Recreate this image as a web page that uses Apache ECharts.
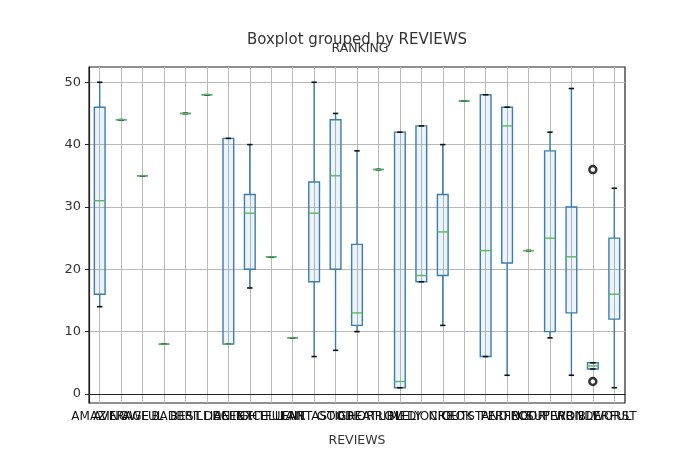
<!DOCTYPE html>
<html>
<head>
<meta charset="utf-8">
<script src="https://cdn.jsdelivr.net/npm/echarts@6/dist/echarts.min.js"></script>
<style>
html,body{margin:0;padding:0;background:#fff;}
#chart{width:689px;height:452px;}
</style>
</head>
<body>
<div id="chart"></div>
<script>
const categories = ['AMAZING','AVERAGE','AWFUL','BAD','BEST','BRILLIANT','DECENT','DELIGHTFUL','EXCELLENT','FAIR','FANTASTIC','GOOD','GREAT','HORRIBLE','LOVELY','MEDIOCRE','NICE','OK','OUTSTANDING','PERFECT','POOR','SUPERB','TERRIBLE','WONDERFUL','WORST'];
const whiskerLow  = [14,44,35, 8,45,48, 8,17,22, 9, 6, 7,10,36, 1,18,11,47, 6, 3,23, 9, 3, 4, 1];
const q1          = [16,44,35, 8,45,48, 8,20,22, 9,18,20,11,36, 1,18,19,47, 6,21,23,10,13, 4,12];
const medians     = [31,44,35, 8,45,48, 8,29,22, 9,29,35,13,36, 2,19,26,47,23,43,23,25,22,4.5,16];
const q3          = [46,44,35, 8,45,48,41,32,22, 9,34,44,24,36,42,43,32,47,48,46,23,39,30, 5,25];
const whiskerHigh = [50,44,35, 8,45,48,41,40,22, 9,50,45,39,36,42,43,40,47,48,46,23,42,49, 5,33];
const outlierCats = ['WONDERFUL','WONDERFUL'];
const outlierVals = [36, 2];
const yTicks = [0,10,20,30,40,50];

const boxData = categories.map((c, i) => [i, whiskerLow[i], q1[i], medians[i], q3[i], whiskerHigh[i]]);
const outlierData = outlierCats.map((c, i) => [c, outlierVals[i]]);

const BOX = '#3b7db0';
function renderBox(params, api) {
  const x = api.value(0);
  const lo = api.coord([x, api.value(1)]);
  const b1 = api.coord([x, api.value(2)]);
  const md = api.coord([x, api.value(3)]);
  const b3 = api.coord([x, api.value(4)]);
  const hi = api.coord([x, api.value(5)]);
  const bw = api.size([1, 0])[0] * 0.5;
  const cx = lo[0];
  const line = (x1, y1, x2, y2, color, w) => ({
    type: 'line', shape: {x1, y1, x2, y2}, style: {stroke: color, lineWidth: w}
  });
  return {
    type: 'group',
    children: [
      line(cx, b3[1], cx, hi[1], BOX, 1.4),
      line(cx, lo[1], cx, b1[1], BOX, 1.4),
      {type: 'rect', shape: {x: cx - bw/2, y: b3[1], width: bw, height: b1[1] - b3[1]},
       style: {stroke: BOX, lineWidth: 1.4, fill: 'rgba(80,150,200,0.10)'}},
      line(cx - bw/4, hi[1], cx + bw/4, hi[1], '#111', 1.6),
      line(cx - bw/4, lo[1], cx + bw/4, lo[1], '#111', 1.6),
      line(cx - bw/2, md[1], cx + bw/2, md[1], '#5cb85c', 1.4)
    ]
  };
}

const chart = echarts.init(document.getElementById('chart'));
chart.setOption({
  animation: false,
  backgroundColor: '#fff',
  title: [
    {text: 'Boxplot grouped by REVIEWS', left: 352, top: 28, textAlign: 'center',
     textStyle: {fontFamily: 'DejaVu Sans', fontSize: 15, fontWeight: 'normal', color: '#333'}},
    {text: 'RANKING', left: 355, top: 37, textAlign: 'center',
     textStyle: {fontFamily: 'DejaVu Sans', fontSize: 12.5, fontWeight: 'normal', color: '#333'}}
  ],
  grid: {left: 89, right: 64, top: 67, bottom: 49, show: true, borderColor: '#222', borderWidth: 1.2, backgroundColor: 'transparent'},
  xAxis: {
    type: 'category',
    data: categories,
    boundaryGap: true,
    name: 'REVIEWS',
    nameLocation: 'middle',
    nameGap: 31,
    nameTextStyle: {fontFamily: 'DejaVu Sans', fontSize: 12.5, color: '#333'},
    axisLine: {lineStyle: {color: '#222', width: 1.2}},
    axisTick: {alignWithLabel: true, length: 4, lineStyle: {color: '#222'}},
    axisLabel: {interval: 0, hideOverlap: false, margin: 8, fontFamily: 'DejaVu Sans', fontSize: 12, color: '#111'},
    splitLine: {show: true, alignWithLabel: true, lineStyle: {color: '#b8b8b8', width: 1}}
  },
  yAxis: {
    type: 'value',
    min: -1.45,
    max: 52.45,
    axisLine: {show: true, lineStyle: {color: '#222', width: 1.2}},
    axisTick: {show: true, length: 4, customValues: yTicks, lineStyle: {color: '#222'}},
    axisLabel: {customValues: yTicks, margin: 8, fontFamily: 'DejaVu Sans', fontSize: 13, color: '#333'},
    splitLine: {show: true, lineStyle: {color: '#b8b8b8', width: 1}}
  },
  series: [
    {
      type: 'custom',
      renderItem: renderBox,
      encode: {x: 0, y: [1, 2, 3, 4, 5]},
      data: boxData,
      z: 3
    },
    {
      type: 'scatter',
      data: outlierData,
      symbol: 'circle',
      symbolSize: 7,
      itemStyle: {color: '#fff', borderColor: '#000', borderWidth: 2.5},
      z: 4
    }
  ]
});
</script>
</body>
</html>
